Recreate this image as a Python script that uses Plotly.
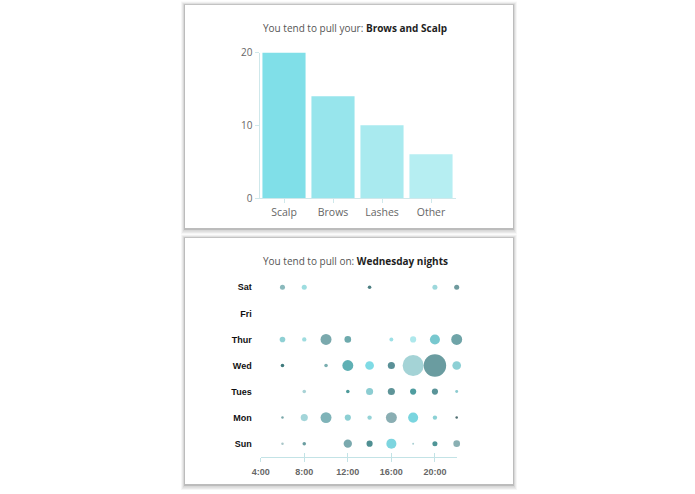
import plotly.graph_objects as go

W, H = 695, 494

# ---------------- data ----------------
# bar chart: where the pulling happens
areas = ["Scalp", "Brows", "Lashes", "Other"]
area_counts = [20, 14, 10, 6]

# bubble chart: when the pulling happens (counts per day / hour)
days = ["Sun", "Mon", "Tues", "Wed", "Thur", "Fri", "Sat"]
hours = [6, 8, 10, 12, 14, 16, 18, 20, 22]
hour_ticks = [4, 8, 12, 16, 20]
hour_labels = ["4:00", "8:00", "12:00", "16:00", "20:00"]

sun  = [0.5, 1,   0,   5.5, 3,   8,   0.3, 2,  3.5]
mon  = [0.5, 4,   9.5, 3,   1.5, 9.5, 8,   1.5, 0.5]
tues = [0,   1,   0,   1,   4,   4,   3,   3,  0.7]
wed  = [1,   0,   1,   9.5, 6,   4,   35,  40, 6]
thur = [2.5, 1.5, 9.5, 3.5, 0,   1.2, 3,   8,  9.5]
fri  = [0,   0,   0,   0,   0,   0,   0,   0,  0]
sat  = [2,   2,   0,   0,   1,   0,   0,   2,  2]

# ---------------- styles ----------------
bar_colors = ["#80dfe8", "#97e5ec", "#a9eaef", "#b6eef2"]

sun_c  = ["#a9c6c8", "#6a9da0", "#000", "#7aa9ae", "#4f8f92", "#7dd5df", "#a8cfd2", "#4f9597", "#8ab0b3"]
mon_c  = ["#7aa8aa", "#a3d5d9", "#7fb3b8", "#8ccfd3", "#95d3d7", "#8aaeb3", "#7ad5df", "#8bd1d5", "#4f6f72"]
tues_c = ["#000", "#a9d3d6", "#000", "#4d9a9a", "#8ccdd2", "#5e9498", "#4f9da0", "#5a9499", "#8ccbd0"]
wed_c  = ["#3f7a7c", "#000", "#7aaeb0", "#5fb0b4", "#7fdbe5", "#5a9097", "#a4d3d6", "#6a9ca0", "#8dd0d5"]
thur_c = ["#8fd0d4", "#9edcdf", "#7aa9ad", "#6eaaad", "#000", "#9de0e6", "#aee8ec", "#78c8cf", "#6fa4a8"]
fri_c  = ["#000"] * 9
sat_c  = ["#8ab9bc", "#9ddde0", "#000", "#000", "#4d7f82", "#000", "#000", "#9dd8dc", "#6f9a9e"]

rows = [sun, mon, tues, wed, thur, fri, sat]
row_colors = [sun_c, mon_c, tues_c, wed_c, thur_c, fri_c, sat_c]


def px_x(v):
    return v / W


def px_y(v):
    return 1 - v / H


fig = go.Figure()

# bar chart
fig.add_trace(go.Bar(
    x=areas, y=area_counts, marker=dict(color=bar_colors, line=dict(width=0)),
    xaxis="x", yaxis="y", hoverinfo="x+y", showlegend=False,
))

# bubble chart
bx, by, bs, bc = [], [], [], []
for di, (vals, cols) in enumerate(zip(rows, row_colors)):
    for hi, v in enumerate(vals):
        if v > 0:
            bx.append(hours[hi])
            by.append(di)
            bs.append(v)
            bc.append(cols[hi])
max_d = 22.5
fig.add_trace(go.Scatter(
    x=bx, y=by, mode="markers",
    marker=dict(size=bs, sizemode="area", sizeref=2 * max(bs) / max_d ** 2,
                color=bc, opacity=1, line=dict(width=0)),
    xaxis="x2", yaxis="y2", cliponaxis=False, showlegend=False,
))
# empty helper trace so the overlay axis (inner half of the ticks) is drawn
fig.add_trace(go.Scatter(x=[], y=[], xaxis="x3", yaxis="y2", showlegend=False,
                         hoverinfo="skip"))

# cards with shadow
shapes = []
cards = [(185, 5, 513, 228), (185, 238, 513, 484)]
for (x0, y0, x1, y1) in cards:
    for spread, dy, a in [(4, 2, 0.035), (3, 2, 0.05), (2, 1.5, 0.07), (1, 1, 0.13)]:
        shapes.append(dict(type="rect", xref="paper", yref="paper", layer="below",
                           x0=px_x(x0 - spread), x1=px_x(x1 + spread),
                           y0=px_y(y1 + spread + dy), y1=px_y(y0 - spread + dy * 0.3),
                           line=dict(width=0), fillcolor=f"rgba(0,0,0,{a})"))
    shapes.append(dict(type="rect", xref="paper", yref="paper", layer="below",
                       x0=px_x(x0), x1=px_x(x1), y0=px_y(y1), y1=px_y(y0),
                       line=dict(width=0), fillcolor="white"))

title_font = dict(family="Open Sans", size=10, color="#555")
annotations = [
    dict(text="You tend to pull your: <span style='color:#1e1e1e'><b>Brows and Scalp</b></span>",
         x=px_x(355), y=px_y(28), xref="paper", yref="paper", showarrow=False,
         xanchor="center", yanchor="middle", font=title_font),
    dict(text="You tend to pull on: <span style='color:#1e1e1e'><b>Wednesday nights</b></span>",
         x=px_x(355), y=px_y(261), xref="paper", yref="paper", showarrow=False,
         xanchor="center", yanchor="middle", font=title_font),
]

axis_col = "#cfe8eb"
tick2_col = "#c3e3e6"
fig.update_layout(
    template="none",
    width=W, height=H, margin=dict(l=0, r=0, t=0, b=0, pad=0, autoexpand=False),
    paper_bgcolor="white", plot_bgcolor="rgba(0,0,0,0)", showlegend=False,
    shapes=shapes, annotations=annotations, bargap=0.12,
    xaxis=dict(domain=[px_x(259.5), px_x(455.5)], anchor="y", showline=True, automargin=False,
               linecolor=axis_col, linewidth=1, ticks="outside", ticklen=4,
               tickcolor=axis_col, showgrid=False, zeroline=False, fixedrange=True,
               tickfont=dict(family="Open Sans", size=10.5, color="#666")),
    yaxis=dict(domain=[px_y(198), px_y(52.5)], anchor="x", range=[0, 20], automargin=False,
               tickvals=[0, 10, 20], showline=True, linecolor=axis_col, linewidth=1,
               ticks="outside", ticklen=4, tickcolor=axis_col, showgrid=False, fixedrange=True,
               zeroline=False, tickfont=dict(family="Open Sans", size=10, color="#666")),
    xaxis2=dict(domain=[px_x(260.7), px_x(456.7)], anchor="y2", range=[4, 22], automargin=False,
                tickvals=hour_ticks, ticktext=hour_labels, showline=True,
                linecolor=tick2_col, linewidth=1, ticks="outside", ticklen=4,
                tickcolor=tick2_col, showgrid=False, zeroline=False, ticklabelstandoff=2,
                fixedrange=True,
                tickfont=dict(family="Liberation Sans", size=9, color="#666", weight="bold")),
    xaxis3=dict(domain=[px_x(260.7), px_x(456.7)], anchor="y2", overlaying="x2", side="bottom",
                range=[4, 22], automargin=False, tickvals=hour_ticks, showticklabels=False,
                showline=False, ticks="inside", ticklen=4, tickcolor=tick2_col,
                showgrid=False, zeroline=False, fixedrange=True),
    yaxis2=dict(domain=[px_y(456.7), px_y(274.3)], anchor="x2", range=[-0.5, 6.5], automargin=False,
                tickvals=list(range(len(days))), ticktext=days, showline=False,
                ticks="", showgrid=False, zeroline=False, ticklabelstandoff=8, fixedrange=True,
                tickfont=dict(family="Liberation Sans", size=9, color="#111", weight="bold")),
)

fig.write_html("out.html", config={"displayModeBar": False},
               post_script="document.body.style.margin='0px';document.body.style.overflow='hidden';")
